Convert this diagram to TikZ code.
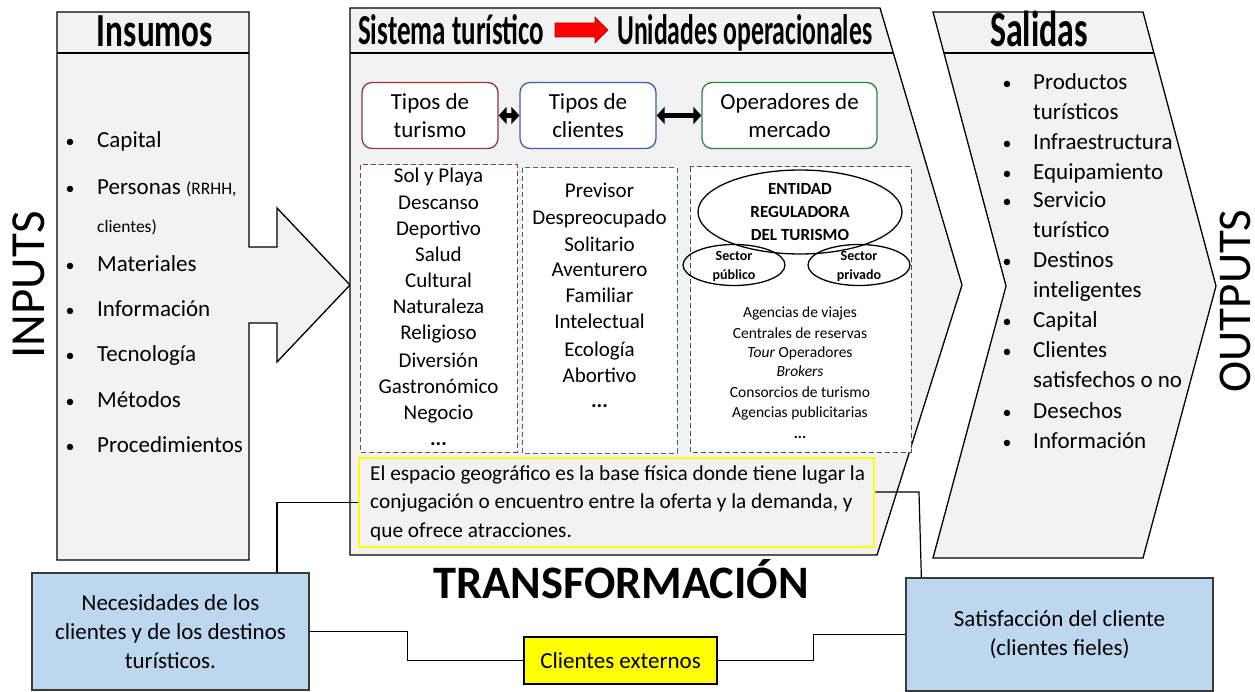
\documentclass[tikz,border=0pt]{standalone}
\usepackage{fontspec}
\setmainfont{Carlito}
\usetikzlibrary{arrows.meta,shapes.geometric}
\definecolor{panel}{HTML}{F2F2F2}
\definecolor{dred}{HTML}{953735}
\definecolor{dblue}{HTML}{3A62A0}
\definecolor{dgreen}{HTML}{2E8540}
\definecolor{dgrn}{HTML}{3E5A3E}
\definecolor{lblue}{HTML}{BDD7EE}
\definecolor{ylw}{HTML}{FFFF00}
\definecolor{bordergray}{HTML}{3A3A3A}
\definecolor{arrowred}{HTML}{FF0000}
\definecolor{arrowedge}{HTML}{B00000}
\newcommand{\fsz}[2]{\fontsize{#1pt}{#2pt}\selectfont}
\newcommand{\hdtxt}[3]{\resizebox{#1pt}{\height}{\fontsize{#2pt}{#2pt}\selectfont\bfseries #3}}
\begin{document}
\begin{tikzpicture}[x=1pt,y=-1pt,
  outline/.style={draw=black,line width=1.3pt,line join=miter},
  sepline/.style={draw=black,line width=1.3pt},
  conn/.style={draw=black,line width=1.2pt},
  hdr/.style={inner sep=0pt},
  item/.style={inner sep=0pt,font=\fsz{23}{28}},
  bul/.style={inner sep=0pt,font=\fsz{18}{28}},
  midlist/.style={inner sep=0pt,font=\fsz{21}{26},anchor=base},
  smalllist/.style={inner sep=0pt,font=\fsz{15.5}{20},anchor=base},
  rbox/.style={rounded corners=10pt,fill=white,line width=1.3pt,minimum height=66pt,align=center,font=\fsz{23}{28},inner sep=0pt},
  dbl/.style={line width=5pt,{Triangle[length=8pt,width=17pt]}-{Triangle[length=8pt,width=17pt]}},
  dashbox/.style={fill=white,line width=1pt,dash pattern=on 5pt off 3pt},
  ell/.style={draw=black,ellipse,line width=1.3pt,inner sep=0pt},
  bluebox/.style={draw=bordergray,fill=lblue,line width=1.3pt,align=center,font=\fsz{23}{29},inner sep=0pt},
  bigword/.style={inner sep=0pt,rotate=90,font=\fsz{49}{49}}
]
\useasboundingbox (0,0) rectangle (1255,692);
\fill[white] (0,0) rectangle (1255,692);

% ---------- Insumos panel with input arrow ----------
\path[outline,fill=panel] (57,12) -- (249,12) -- (249,247) -- (277,247) -- (277,208)
  -- (350,285) -- (277,362) -- (277,323) -- (249,323) -- (249,560) -- (57,560) -- cycle;
\draw[sepline] (57,53) -- (249,53);
\node[hdr,anchor=base] (hins) at (155,47) {\hdtxt{116}{47.5}{Insumos}};

\foreach \t/\b in {Capital/148, Materiales/272, Información/317, Tecnología/362, Métodos/407, Procedimientos/452}
  {\node[bul,anchor=base] at (70,\b) {\textbullet};
   \node[item,anchor=base west] at (97,\b) {\t};}
\node[bul,anchor=base] at (70,195) {\textbullet};
\node[item,anchor=base west] at (97,195) {Personas {\fsz{17.5}{20}(RRHH,}};
\node[item,anchor=base west,font=\fsz{17.5}{20}] at (97,233) {clientes)};

% ---------- Transformation panel ----------
\path[outline,fill=panel] (350,8) -- (880,8) -- (962,285) -- (877,555) -- (350,555) -- cycle;
\draw[sepline] (350,53) -- (893,53);
\node[hdr,anchor=base west] (hsis) at (358,45) {\hdtxt{186}{42.7}{Sistema turístico}};
\node[hdr,anchor=base west] (huni) at (617,45) {\hdtxt{255}{42.7}{Unidades operacionales}};
\path[fill=arrowred,draw=arrowedge,line width=0.6pt] (555,23) -- (595,23) -- (595,17) -- (608,30)
  -- (595,43) -- (595,37) -- (555,37) -- cycle;

\node[rbox,draw=dred,minimum width=136pt] (tt) at (430,115.5) {Tipos de\\turismo};
\node[rbox,draw=dblue,minimum width=136pt] (tc) at (588,115.5) {Tipos de\\clientes};
\node[rbox,draw=dgreen,minimum width=175pt] (om) at (789.5,115.5) {Operadores de\\mercado};
\draw[dbl] (tt.east) -- (tc.west);
\draw[dbl] (tc.east) -- (om.west);

\draw[dashbox,draw=dred] (360,165) rectangle (517,452);
\draw[dashbox,draw=dblue] (522,168) rectangle (677,453);
\draw[dashbox,draw=dgrn] (690,167) rectangle (911,452);

\foreach \t/\b in {Sol y Playa/183, Descanso/210, Deportivo/236, Salud/262, Cultural/288,
  Naturaleza/314, Religioso/340, Diversión/367, Gastronómico/393, Negocio/419}
  {\node[midlist] at (438.5,\b) {\t};}
\node[midlist] at (438.5,445) {\textbf{...}};

\foreach \t/\b in {Previsor/198, Despreocupado/225, Solitario/252, Aventurero/277, Familiar/303,
  Intelectual/329, Ecología/356, Abortivo/382}
  {\node[midlist] at (599.5,\b) {\t};}
\node[midlist] at (599.5,407) {\textbf{...}};

\node[ell,minimum width=204pt,minimum height=84pt] (ent) at (800,212) {};
\node[inner sep=0pt,align=center,font=\fsz{17}{23}\bfseries] (enttxt) at (ent.center) {ENTIDAD\\REGULADORA\\DEL TURISMO};
\node[ell,minimum width=102pt,minimum height=41pt] (spub) at (734,265) {};
\node[inner sep=0pt,align=center,font=\fsz{14}{19}\bfseries] (spubtxt) at ([yshift=-1.5pt]spub.center) {Sector\\público};
\node[ell,minimum width=102pt,minimum height=41pt] (spriv) at (859,265) {};
\node[inner sep=0pt,align=center,font=\fsz{14}{19}\bfseries] (sprivtxt) at ([yshift=-1.5pt]spriv.center) {Sector\\privado};

\node[smalllist] at (800,318) {Agencias de viajes};
\node[smalllist] at (800,338) {Centrales de reservas};
\node[smalllist] at (800,357) {\textit{Tour} Operadores};
\node[smalllist] at (800,377) {\textit{Brokers}};
\node[smalllist] at (800,397) {Consorcios de turismo};
\node[smalllist] at (800,417) {Agencias publicitarias};
\node[smalllist] at (800,438) {\textbf{...}};

\node[draw=ylw,line width=2.5pt,fill=panel,minimum width=515pt,minimum height=89pt,inner sep=0pt] (esp) at (616.5,502.5) {};
\node[inner sep=0pt,anchor=base west,font=\fsz{21.3}{28}] at (370,480) {El espacio geográfico es la base física donde tiene lugar la};
\node[inner sep=0pt,anchor=base west,font=\fsz{21.3}{28}] at (370,508) {conjugación o encuentro entre la oferta y la demanda, y};
\node[inner sep=0pt,anchor=base west,font=\fsz{21.3}{28}] at (370,537) {que ofrece atracciones.};

\node[inner sep=0pt,anchor=base,font=\fsz{46.5}{46.5}\bfseries] (trans) at (621,598) {TRANSFORMACIÓN};

% ---------- Salidas panel ----------
\path[outline,fill=panel] (933,12) -- (1143,12) -- (1216,286) -- (1143,558) -- (933,558) -- (1006,286) -- cycle;
\draw[sepline] (944,53) -- (1154,53);
\node[hdr,anchor=base] (hsal) at (1039,47) {\hdtxt{98}{50.6}{Salidas}};

\foreach \t/\b in {Productos/90, Infraestructura/150, Equipamiento/180, Servicio/208, Destinos/268,
  Capital/327, Clientes/358, Desechos/418, Información/448}
  {\node[bul,anchor=base] at (1007,\b) {\textbullet};
   \node[item,anchor=base west] at (1033,\b) {\t};}
\foreach \t/\b in {turísticos/120, turístico/238, inteligentes/298, satisfechos o no/388}
  {\node[item,anchor=base west] at (1033,\b) {\t};}

% ---------- side words ----------
\node[bigword] (inputs) at (29,285) {INPUTS};
\node[bigword,font=\fsz{47}{47}] (outputs) at (1235,301) {OUTPUTS};

% ---------- bottom boxes ----------
\node[bluebox,minimum width=277pt,minimum height=117pt] (nec) at (170.5,631.5) {Necesidades de los\\clientes y de los destinos\\turísticos.};
\node[bluebox,minimum width=307pt,minimum height=113pt] (sat) at (1059.5,634.5) {Satisfacción del cliente\\(clientes fieles)};
\node[draw=black,fill=ylw,line width=1.3pt,minimum width=193pt,minimum height=47pt,font=\fsz{23}{28},inner sep=0pt] (ce) at (620.5,660.5) {Clientes externos};

% ---------- connectors ----------
\coordinate (bend) at (919,492);
\draw[conn] (esp.west) -| ([xshift=106.5pt]nec.north);
\draw[conn] ([yshift=10.5pt]esp.east) -- (bend) -- ([xshift=16pt]sat.north west);
\draw[conn] (nec.east) -- ++(98,0) |- (ce.west);
\draw[conn] (ce.east) -- ++(96,0) |- (sat.west);
\end{tikzpicture}
\end{document}
